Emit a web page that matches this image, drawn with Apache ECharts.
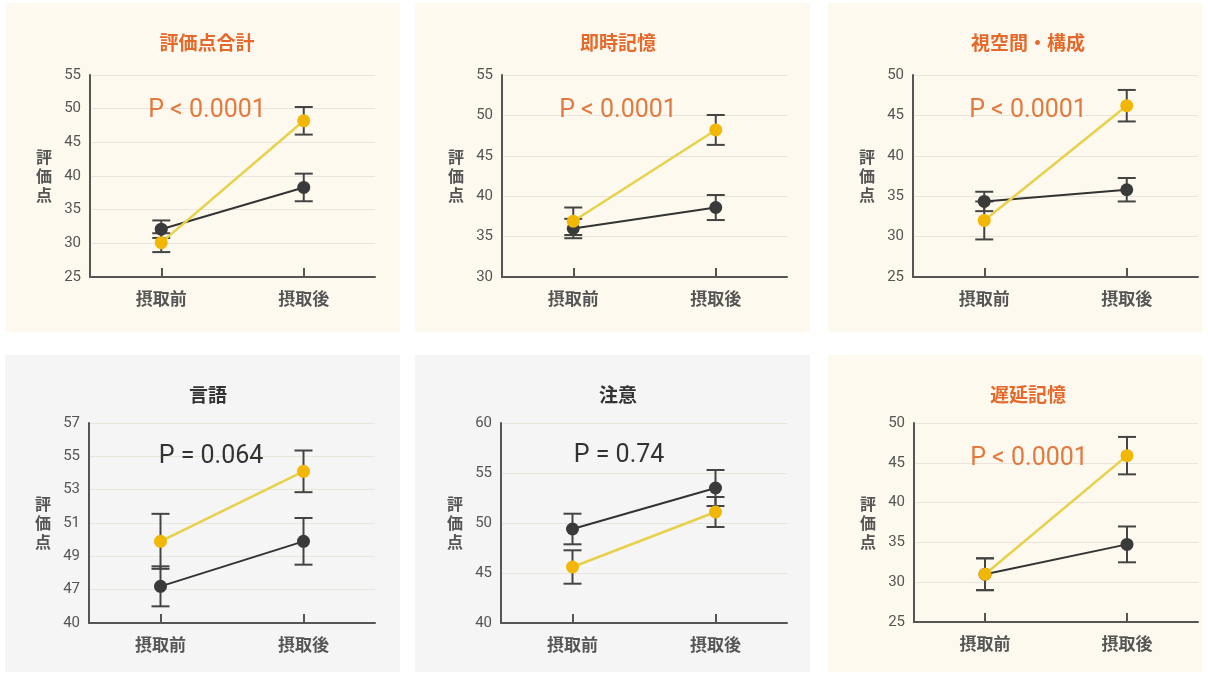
<!DOCTYPE html>
<html>
<head>
<meta charset="utf-8">
<script src="https://cdn.jsdelivr.net/npm/echarts@6/dist/echarts.min.js"></script>
<style>
  body { margin: 0; background: #fff; width: 1208px; height: 675px; position: relative; overflow: hidden; }
  .panel { position: absolute; }
  .cream { background: #fdf9ee; }
  .gray { background: #f5f5f5; }
</style>
</head>
<body>
<div id="c0" class="panel cream" style="left:5px;top:3px;width:395px;height:329px"></div>
<div id="c1" class="panel cream" style="left:415px;top:3px;width:395px;height:329px"></div>
<div id="c2" class="panel cream" style="left:828px;top:3px;width:375px;height:329px"></div>
<div id="c3" class="panel gray" style="left:5px;top:355px;width:395px;height:317px"></div>
<div id="c4" class="panel gray" style="left:415px;top:355px;width:395px;height:317px"></div>
<div id="c5" class="panel cream" style="left:828px;top:355px;width:375px;height:317px"></div>
<script>
  // データ
  var categories = ['摂取前', '摂取後'];
  var titles = ['評価点合計', '即時記憶', '視空間・構成', '言語', '注意', '遅延記憶'];
  var pTexts = ['P < 0.0001', 'P < 0.0001', 'P < 0.0001', 'P = 0.064', 'P = 0.74', 'P < 0.0001'];
  var significant = [true, true, true, false, false, true];
  var yMin = [25, 30, 25, 45, 40, 25];
  var yMax = [55, 55, 50, 57, 60, 50];
  var yStep = [5, 5, 5, 2, 5, 5];
  var tickLabels = [
    ['25', '30', '35', '40', '45', '50', '55'],
    ['30', '35', '40', '45', '50', '55'],
    ['25', '30', '35', '40', '45', '50'],
    ['40', '47', '49', '51', '53', '55', '57'],
    ['40', '45', '50', '55', '60'],
    ['25', '30', '35', '40', '45', '50']
  ];
  // 黄色: 摂取群, 黒: 対照群 (平均, 誤差)
  var yellowMean = [[30.1, 48.2], [36.9, 48.2], [32.0, 46.2], [49.9, 54.1], [45.6, 51.1], [31.0, 45.9]];
  var yellowErr  = [[1.4, 2.05], [1.7, 1.85], [2.35, 1.95], [1.65, 1.25], [1.67, 1.5], [2.0, 2.35]];
  var blackMean  = [[32.1, 38.3], [36.0, 38.6], [34.35, 35.8], [47.2, 49.9], [49.4, 53.5], [31.0, 34.75]];
  var blackErr   = [[1.3, 2.05], [1.2, 1.55], [1.2, 1.45], [1.2, 1.4], [1.53, 1.8], [2.0, 2.25]];

  // パネルごとのグリッド位置
  var grids = [
    { left: 85, top: 72, width: 285, height: 202, tx: 197, ty: 25, px: 197, py: 90 },
    { left: 87, top: 72, width: 285, height: 202, tx: 198, ty: 25, px: 198, py: 90 },
    { left: 85, top: 72, width: 285, height: 202, tx: 195, ty: 25, px: 195, py: 90 },
    { left: 84, top: 68, width: 286, height: 200, tx: 198, ty: 25, px: 201, py: 84 },
    { left: 86, top: 68, width: 286, height: 200, tx: 198, ty: 25, px: 199, py: 83 },
    { left: 86, top: 68, width: 284, height: 199, tx: 195, ty: 25, px: 196, py: 86 }
  ];

  var cjk = '"Noto Sans CJK JP", sans-serif';

  function errorSeries(means, errs, z) {
    return {
      type: 'custom',
      z: z,
      silent: true,
      data: means.map(function (m, i) { return [i, m - errs[i], m + errs[i]]; }),
      encode: { x: 0, y: [1, 2] },
      renderItem: function (params, api) {
        var lo = api.coord([api.value(0), api.value(1)]);
        var hi = api.coord([api.value(0), api.value(2)]);
        var w = 9;
        var st = { stroke: '#444', lineWidth: 2 };
        return {
          type: 'group',
          children: [
            { type: 'line', shape: { x1: lo[0], y1: lo[1], x2: hi[0], y2: hi[1] }, style: st },
            { type: 'line', shape: { x1: lo[0] - w, y1: lo[1], x2: lo[0] + w, y2: lo[1] }, style: st },
            { type: 'line', shape: { x1: hi[0] - w, y1: hi[1], x2: hi[0] + w, y2: hi[1] }, style: st }
          ]
        };
      }
    };
  }

  titles.forEach(function (t, k) {
    var g = grids[k];
    var chart = echarts.init(document.getElementById('c' + k));
    var labels = tickLabels[k];
    chart.setOption({
      animation: false,
      title: [
        {
          text: t, left: g.tx, top: g.ty, textAlign: 'center',
          textStyle: { fontFamily: cjk, fontSize: 19, fontWeight: 'bold', color: significant[k] ? '#e5692b' : '#333' }
        },
        {
          text: pTexts[k], left: g.px, top: g.py, textAlign: 'center',
          textStyle: { fontFamily: 'Roboto, sans-serif', fontSize: 25, fontWeight: 'normal', color: significant[k] ? '#e27a3f' : '#333' }
        }
      ],
      grid: { left: g.left, top: g.top, width: g.width, height: g.height },
      xAxis: {
        type: 'category',
        data: categories,
        boundaryGap: true,
        axisLine: { lineStyle: { color: '#555', width: 2 } },
        axisTick: { show: true, inside: true, alignWithLabel: true, length: 9, lineStyle: { color: '#555', width: 2 } },
        axisLabel: { color: '#555', fontSize: 17, fontWeight: 'bold', fontFamily: cjk, margin: 13 },
        splitLine: { show: false }
      },
      yAxis: {
        type: 'value',
        min: yMin[k], max: yMax[k], interval: yStep[k],
        name: '評\n価\n点',
        nameLocation: 'middle',
        nameRotate: 0,
        nameGap: 38,
        nameTextStyle: { color: '#555', fontSize: 16, fontWeight: 'bold', fontFamily: cjk, lineHeight: 19 },
        axisLine: { show: true, lineStyle: { color: '#555', width: 2 } },
        axisTick: { show: false },
        axisLabel: {
          color: '#555', fontSize: 15, fontFamily: 'Roboto, sans-serif', margin: 9,
          formatter: function (v) {
            return labels[Math.round((v - yMin[k]) / yStep[k])];
          }
        },
        splitLine: { lineStyle: { color: '#e9e5dc', width: 1 } }
      },
      series: [
        errorSeries(blackMean[k], blackErr[k], 1),
        errorSeries(yellowMean[k], yellowErr[k], 1),
        {
          type: 'line', data: blackMean[k], z: 3,
          symbol: 'circle', symbolSize: 13,
          itemStyle: { color: '#3a3a3a' },
          lineStyle: { color: '#333', width: 2 }
        },
        {
          type: 'line', data: yellowMean[k], z: 4,
          symbol: 'circle', symbolSize: 13,
          itemStyle: { color: '#f2b705' },
          lineStyle: { color: '#e8d14a', width: 2.5 }
        }
      ]
    });
  });
</script>
</body>
</html>
